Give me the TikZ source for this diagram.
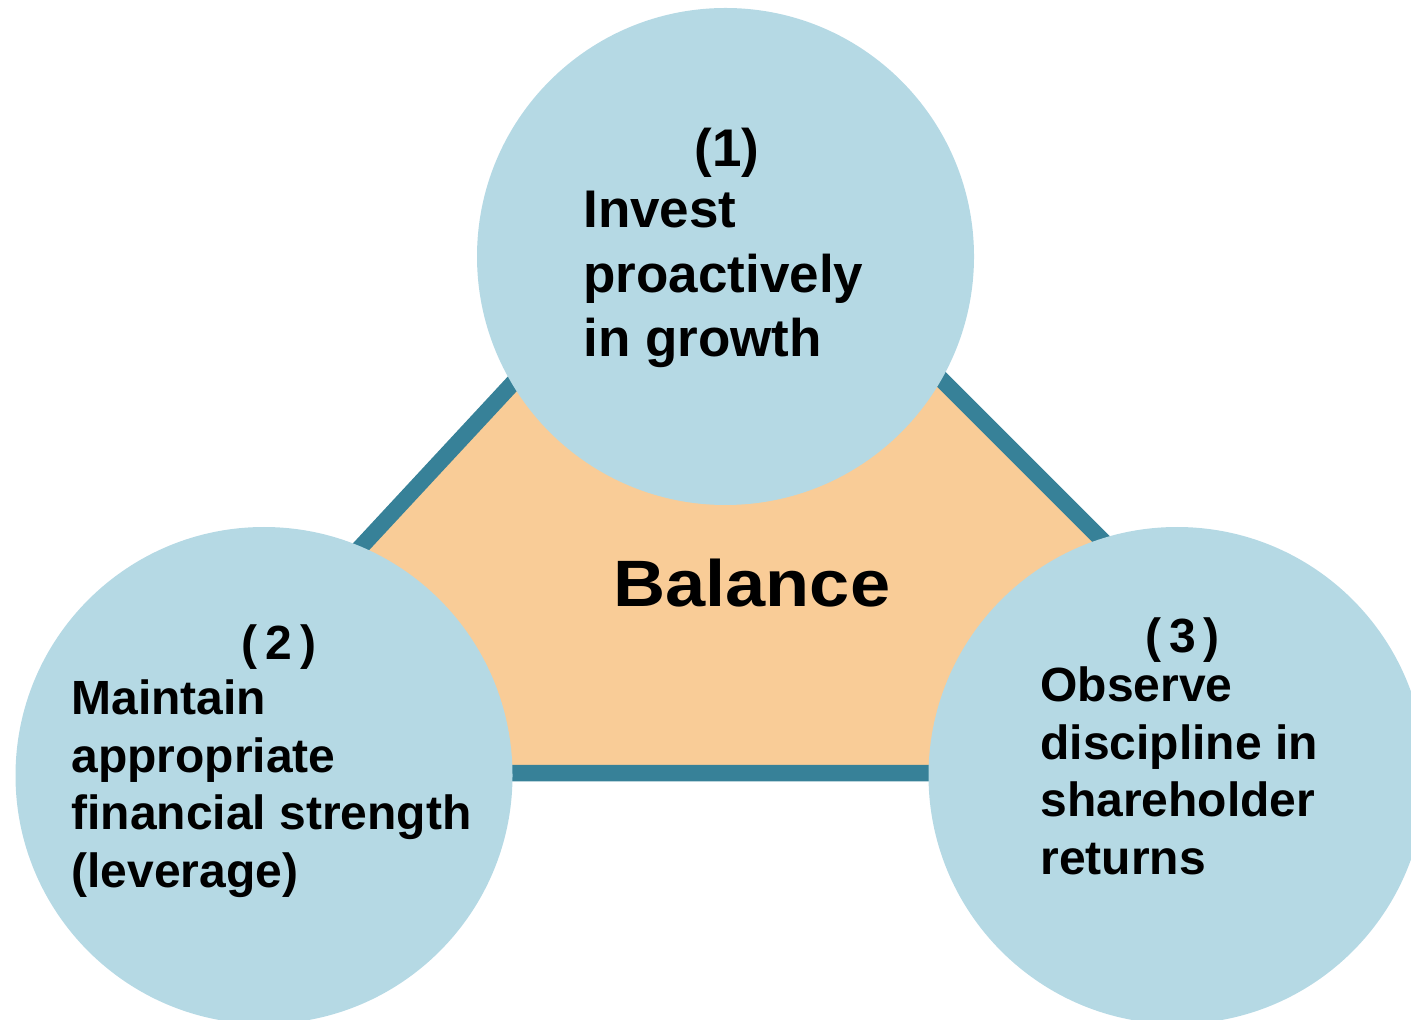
\documentclass[tikz,border=0pt]{standalone}
\usepackage{fontspec}
\setmainfont{Liberation Sans}
\usepackage{tikz}
\usetikzlibrary{positioning}

\definecolor{ringblue}{RGB}{181,217,228}
\definecolor{edgeteal}{RGB}{55,129,152}
\definecolor{balfill}{RGB}{249,204,151}

\begin{document}
\begin{tikzpicture}[x=0.5pt,y=-0.5pt]
	\tikzset{goal/.style={circle,fill=ringblue,minimum size=248.5pt,inner sep=0pt}}
	\tikzset{goaltext/.style={inner sep=0pt,align=left,font=\bfseries\fontsize{24}{28.75}\selectfont}}
	\tikzset{toptext/.style={goaltext,font=\bfseries\fontsize{26.5}{32.25}\selectfont}}
	\useasboundingbox (0,0) rectangle (1411,1020);

	%% the balance triangle behind the circles
	\coordinate (apex) at (721,159);
	\coordinate (lft) at (151,773);
	\coordinate (rgt) at (1335,773);
	\draw[edgeteal,line width=8.25pt,fill=balfill] (apex) -- (lft) -- (rgt) -- cycle;

	%% three goals
	\node[goal] (g1) at (725.5,256.5) {};
	\node[goal] (g2) at (264,775.5) {};
	\node[goal] (g3) at (1177,775.5) {};

	%% labels (base anchor = last line)
	\node[toptext,anchor=base] (n1) at (727,167) {(1)};
	\node[toptext,anchor=base west] (t1) at (583,357) {Invest\\proactively\\in growth};

	\node[goaltext,anchor=base] (n2) at (279,659) {(\kern4pt2\kern4pt)};
	\node[goaltext,anchor=base west] (t2) at (71,887) {Maintain\\appropriate\\financial strength\\(leverage)};

	\node[goaltext,anchor=base] (n3) at (1182.5,652) {(\kern4pt3\kern4pt)};
	\node[goaltext,anchor=base west] (t3) at (1040,874) {Observe\\discipline in\\shareholder\\returns};

	\node[inner sep=0pt,anchor=base west,font=\bfseries\fontsize{32.8}{39}\selectfont] (bal) at (613,606) {\scalebox{1.1}[1]{Balance}};
\end{tikzpicture}
\end{document}
